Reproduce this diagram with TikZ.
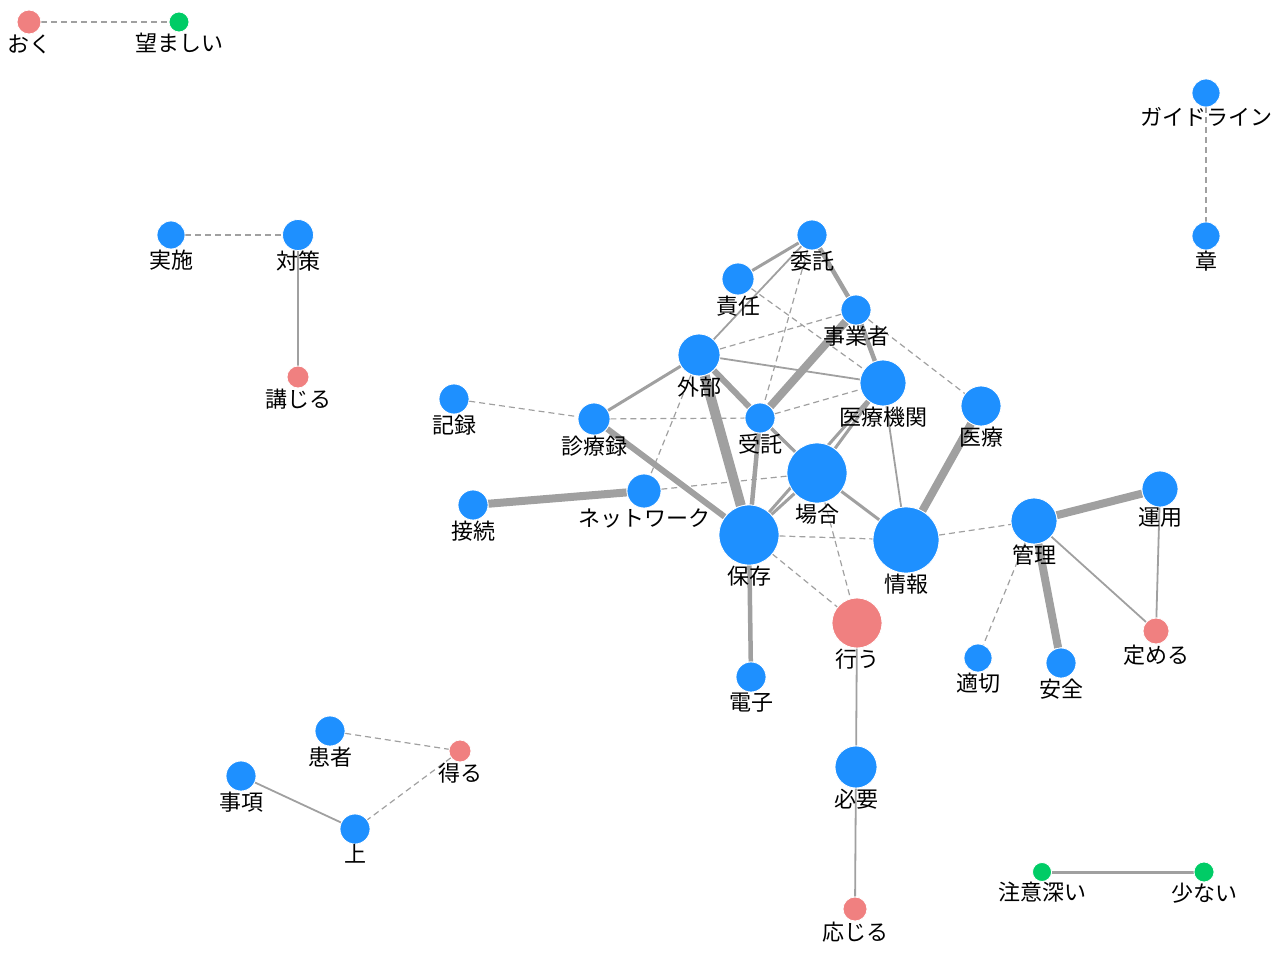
\documentclass[tikz,border=0pt]{standalone}
\usepackage{fontspec}
\setmainfont{Noto Sans CJK JP}
\pgfdeclarelayer{bg}
\pgfsetlayers{bg,main}
\definecolor{nblue}{HTML}{1E90FF}
\definecolor{npink}{HTML}{F08080}
\definecolor{ngreen}{HTML}{00CC66}
\definecolor{egray}{HTML}{A0A0A0}
\tikzset{
  v/.style args={#1/#2}{circle, fill=#1, draw=white, line width=0.8pt, minimum size=#2, inner sep=0pt,
    label={[lab]below:{\vlabel}}},
  lab/.style={inner sep=0pt, label distance=0pt, font=\fontsize{22}{24}\selectfont, text=black},
  ed/.style={draw=egray, line width=1.2pt, dash pattern=on 6pt off 4pt},
  e1/.style={draw=egray, line width=1.8pt},
  e2/.style={draw=egray, line width=3pt},
  e3/.style={draw=egray, line width=4.5pt},
  e4/.style={draw=egray, line width=6pt},
  e5/.style={draw=egray, line width=8pt},
  e6/.style={draw=egray, line width=10pt},
}
\newcommand{\vnode}[6]{\def\vlabel{#6}\node[v=#4/#5] (#1) at (#2,#3) {};}
\begin{document}
\begin{tikzpicture}[x=1pt,y=-1pt]
\useasboundingbox (0,0) rectangle (1280,960);
\vnode{oku}{29}{22}{npink}{24pt}{おく}
\vnode{nozo}{179}{22}{ngreen}{20pt}{望ましい}
\vnode{guide}{1206}{93}{nblue}{28pt}{ガイドライン}
\vnode{shou}{1206}{236}{nblue}{28pt}{章}
\vnode{jisshi}{171}{235}{nblue}{28pt}{実施}
\vnode{taisaku}{298}{235}{nblue}{31pt}{対策}
\vnode{kouji}{298}{377}{npink}{22pt}{講じる}
\vnode{itaku}{812}{235}{nblue}{30pt}{委託}
\vnode{sekinin}{738}{279}{nblue}{32pt}{責任}
\vnode{jigyo}{856}{310}{nblue}{30pt}{事業者}
\vnode{gaibu}{699}{355}{nblue}{42pt}{外部}
\vnode{kikan}{883}{383}{nblue}{46pt}{医療機関}
\vnode{iryo}{981}{406}{nblue}{40pt}{医療}
\vnode{kiroku}{454}{399}{nblue}{30pt}{記録}
\vnode{shinryo}{594}{419}{nblue}{32pt}{診療録}
\vnode{jutaku}{760}{418}{nblue}{30pt}{受託}
\vnode{baai}{817}{473}{nblue}{60pt}{場合}
\vnode{setsu}{473}{505}{nblue}{30pt}{接続}
\vnode{net}{644}{491}{nblue}{34pt}{ネットワーク}
\vnode{hozon}{749}{535}{nblue}{60pt}{保存}
\vnode{joho}{906}{540}{nblue}{66pt}{情報}
\vnode{kanri}{1034}{521}{nblue}{46pt}{管理}
\vnode{unyo}{1160}{489}{nblue}{36pt}{運用}
\vnode{okonau}{857}{623}{npink}{50pt}{行う}
\vnode{sadame}{1156}{631}{npink}{26pt}{定める}
\vnode{teki}{978}{658}{nblue}{28pt}{適切}
\vnode{anzen}{1061}{663}{nblue}{30pt}{安全}
\vnode{denshi}{751}{677}{nblue}{30pt}{電子}
\vnode{hitsu}{856}{767}{nblue}{42pt}{必要}
\vnode{ojiru}{855}{909}{npink}{24pt}{応じる}
\vnode{kanja}{330}{731}{nblue}{30pt}{患者}
\vnode{eru}{460}{751}{npink}{22pt}{得る}
\vnode{jiko}{241}{776}{nblue}{30pt}{事項}
\vnode{ue}{355}{829}{nblue}{30pt}{上}
\vnode{chui}{1042}{872}{ngreen}{19pt}{注意深い}
\vnode{suku}{1204}{872}{ngreen}{20pt}{少ない}
\begin{pgfonlayer}{bg}
\path[ed] (oku) -- (nozo);
\path[ed] (guide) -- (shou);
\path[ed] (jisshi) -- (taisaku);
\path[e1] (taisaku) -- (kouji);
\path[e2] (itaku) -- (sekinin);
\path[e1] (itaku) -- (gaibu);
\path[ed] (sekinin) -- (kikan);
\path[ed] (itaku) -- (jutaku);
\path[e3] (itaku) -- (jigyo);
\path[e3] (jigyo) -- (kikan);
\path[ed] (jigyo) -- (gaibu);
\path[ed] (jigyo) -- (iryo);
\path[e5] (jigyo) -- (jutaku);
\path[e1] (gaibu) -- (kikan);
\path[e4] (gaibu) -- (jutaku);
\path[e1] (gaibu) -- (baai);
\path[e6] (gaibu) -- (hozon);
\path[e2] (gaibu) -- (shinryo);
\path[ed] (gaibu) -- (net);
\path[ed] (jutaku) -- (kikan);
\path[ed] (shinryo) -- (jutaku);
\path[ed] (kiroku) -- (shinryo);
\path[e4] (shinryo) -- (hozon);
\path[e3] (jutaku) -- (hozon);
\path[e2] (jutaku) -- (baai);
\path[e2] (hozon) -- (kikan);
\path[e2] (hozon) -- (baai);
\path[e2] (baai) -- (kikan);
\path[e2] (baai) -- (joho);
\path[ed] (net) -- (baai);
\path[ed] (baai) -- (okonau);
\path[ed] (hozon) -- (joho);
\path[ed] (hozon) -- (okonau);
\path[e3] (hozon) -- (denshi);
\path[e5] (setsu) -- (net);
\path[e1] (kikan) -- (joho);
\path[e5] (iryo) -- (joho);
\path[ed] (joho) -- (kanri);
\path[e5] (kanri) -- (unyo);
\path[e5] (kanri) -- (anzen);
\path[ed] (kanri) -- (teki);
\path[e1] (kanri) -- (sadame);
\path[e1] (unyo) -- (sadame);
\path[e1] (okonau) -- (hitsu);
\path[e1] (hitsu) -- (ojiru);
\path[ed] (kanja) -- (eru);
\path[ed] (eru) -- (ue);
\path[e1] (jiko) -- (ue);
\path[e2] (chui) -- (suku);
\end{pgfonlayer}
\end{tikzpicture}
\end{document}
